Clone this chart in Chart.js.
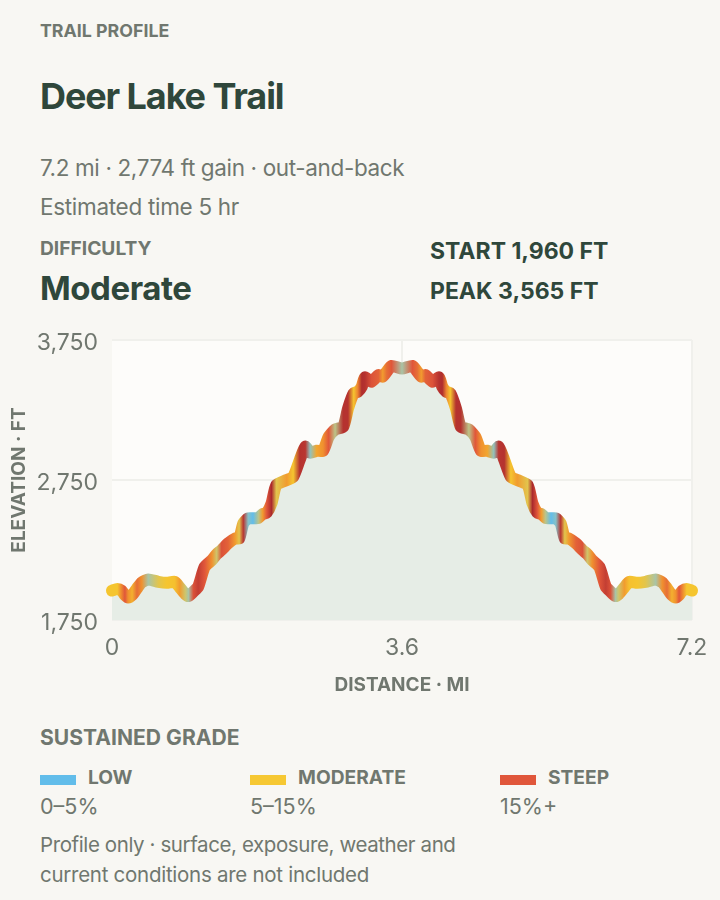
<!DOCTYPE html>
<html>
<head>
<meta charset="utf-8">
<script src="https://cdn.jsdelivr.net/npm/chart.js@4"></script>
<style>
html,body{margin:0;padding:0;background:#f8f7f3;}
body{width:720px;height:900px;position:relative;overflow:hidden;font-family:Inter,"Noto Sans",sans-serif;}
.t{position:absolute;white-space:nowrap;line-height:30px;height:30px;}
.m{color:#70776f;font-size:22.5px;font-weight:400;letter-spacing:-0.36px;}
.b{color:#70776f;font-weight:700;}
.d{color:#2f473b;font-weight:700;}
.s{position:absolute;width:36px;height:10px;top:775px;}
#wrap{position:absolute;left:0;top:320px;width:720px;height:380px;}
</style>
</head>
<body>
<div class="t b" style="left:40px;top:16px;font-size:17.8px;">TRAIL PROFILE</div>
<div class="t d" style="left:40px;top:81px;font-size:36px;letter-spacing:-1.1px;">Deer Lake Trail</div>
<div class="t m" style="left:40px;top:153px;">7.2 mi · 2,774 ft gain · out-and-back</div>
<div class="t m" style="left:40px;top:192px;letter-spacing:-0.3px;">Estimated time 5 hr</div>
<div class="t b" style="left:40px;top:233px;font-size:19.2px;">DIFFICULTY</div>
<div class="t d" style="left:40px;top:273px;font-size:33px;letter-spacing:-0.45px;">Moderate</div>
<div class="t d" style="left:430px;top:236px;font-size:23px;">START 1,960 FT</div>
<div class="t d" style="left:430px;top:276px;font-size:23px;">PEAK 3,565 FT</div>
<div id="wrap"><canvas id="c" width="720" height="380"></canvas></div>
<div class="t b" style="left:40px;top:723px;font-size:21.1px;">SUSTAINED GRADE</div>
<div id="legend"></div>
<div class="t m" style="left:40px;top:830px;font-size:20.5px;letter-spacing:-0.4px;">Profile only · surface, exposure, weather and</div>
<div class="t m" style="left:40px;top:860px;font-size:20.5px;letter-spacing:-0.27px;">current conditions are not included</div>
<script>
const distanceMi = [0,0.066,0.12,0.16,0.2,0.25,0.31,0.37,0.45,0.575,0.68,0.78,0.84,0.91,0.95,1.01,1.07,1.15,1.24,1.3,1.36,1.44,1.53,1.58,1.63,1.69,1.75,1.82,1.87,1.92,1.98,2.04,2.17,2.25,2.33,2.4,2.46,2.54,2.62,2.69,2.77,2.87,2.93,3,3.05,3.1,3.14,3.22,3.31,3.36,3.41,3.47,3.6,
3.73,3.79,3.84,3.89,3.98,4.06,4.1,4.15,4.2,4.27,4.33,4.43,4.51,4.58,4.66,4.74,4.8,4.87,4.95,5.03,5.16,5.22,5.28,5.33,5.38,5.45,5.51,5.57,5.62,5.67,5.76,5.84,5.9,5.96,6.05,6.13,6.19,6.25,6.29,6.36,6.42,6.52,6.625,6.75,6.83,6.89,6.95,7,7.04,7.08,7.134,7.2];
const elevationFt = [1960,1972,1959,1928,1911,1928,1976,2019,2040,2023,2016,2023,1983,1935,1921,1952,1988,2130,2178,2221,2250,2297,2333,2333,2440,2476,2476,2481,2507,2516,2583,2714,2750,2773,2892,2988,2945,2959,2959,3059,3111,3130,3261,3369,3380,3416,3483,3452,3500,3488,3523,3565,3547,
3565,3523,3488,3500,3452,3483,3416,3380,3369,3261,3130,3111,3059,2959,2959,2945,2988,2892,2773,2750,2714,2583,2516,2507,2481,2476,2476,2440,2333,2333,2297,2250,2221,2178,2130,1988,1952,1921,1935,1983,2023,2016,2023,2040,2019,1976,1928,1911,1928,1959,1972,1960];
const gradePct = [9,9,15,19,14,11,17,14,5,8,9,9.5,13,7,5,20,25,19,14,7,20,18,13,8,27,3.5,2,6,13,19,30,8,13,9,28,27,4,12,14,19,6,28,28,9,15,29,28,20,18,13,17,19,5,
19,17,13,18,20,28,29,15,9,28,28,6,19,14,12,4,27,28,9,13,8,30,19,13,6,2,3.5,27,8,13,18,20,7,14,19,25,20,5,7,13,9.5,9,8,5,14,17,11,14,19,15,9,9];
const yTicks = [1750,2750,3750];
const xTicks = [0,3.6,7.2];
const rampGrade = [2,5,9,14,19,30];
const rampColor = ['#62bdea','#a9c4a6','#f5c52f','#f0912f','#e0563a','#ab2a2d'];
const legendNames = ['LOW','MODERATE','STEEP'];
const legendRanges = ['0–5%','5–15%','15%+'];
const legendColors = ['#62bdea','#f6c833','#e0563a'];
const legendLeft = [40,250,500];

function hex(c){return [1,3,5].map(i=>parseInt(c.substr(i,2),16));}
function gradeColor(g){
  if(g<=rampGrade[0])return rampColor[0];
  for(let i=1;i<rampGrade.length;i++){
    if(g<=rampGrade[i]){
      const f=(g-rampGrade[i-1])/(rampGrade[i]-rampGrade[i-1]);
      const a=hex(rampColor[i-1]),b=hex(rampColor[i]);
      return 'rgb('+a.map((v,k)=>Math.round(v+(b[k]-v)*f)).join(',')+')';
    }
  }
  return rampColor[rampColor.length-1];
}
let grad=null;
function lineStroke(ctx){
  const ch=ctx.chart,area=ch.chartArea;
  if(!area)return rampColor[2];
  if(grad)return grad;
  const g=ch.ctx.createLinearGradient(area.left,0,area.right,0);
  const xs=ch.scales.x;
  distanceMi.forEach((d,i)=>{
    g.addColorStop(Math.min(1,Math.max(0,(xs.getPixelForValue(d)-area.left)/(area.right-area.left))),gradeColor(gradePct[i]));
  });
  grad=g;
  return g;
}
const plotBg={id:'plotBg',beforeDraw(c){const a=c.chartArea,x=c.ctx;x.save();x.fillStyle='#fdfcfa';x.fillRect(a.left,a.top,a.right-a.left,a.bottom-a.top);x.restore();}};
new Chart(document.getElementById('c'),{
  type:'line',
  plugins:[plotBg],
  data:{datasets:[{
    data:distanceMi.map((d,i)=>({x:d,y:elevationFt[i]})),
    borderColor:lineStroke,
    backgroundColor:'#e6ede6',
    fill:'start',
    borderWidth:12,
    borderCapStyle:'round',
    borderJoinStyle:'round',
    pointRadius:0,
    tension:0.2,
    clip:false
  }]},
  options:{
    responsive:false,
    animation:false,
    layout:{padding:{top:20,right:28,left:0,bottom:0}},
    plugins:{legend:{display:false},tooltip:{enabled:false}},
    scales:{
      x:{type:'linear',min:0,max:7.2,
        afterBuildTicks(s){s.ticks=xTicks.map(v=>({value:v}));},
        afterFit(s){s.height=80;s.paddingLeft=0;s.paddingRight=0;},
        grid:{color:c=>c.tick&&c.tick.value===0?'rgba(0,0,0,0)':'#f0f0ec',lineWidth:2,drawTicks:false},
        border:{display:false},
        ticks:{autoSkip:false,maxRotation:0,padding:14,color:'#70776f',font:{family:'Inter',size:23},callback:v=>String(v)},
        title:{display:true,text:'DISTANCE · MI',color:'#70776f',font:{family:'Inter',size:19,weight:'700'},padding:{top:7,bottom:3}}
      },
      y:{type:'linear',min:1750,max:3750,
        afterBuildTicks(s){s.ticks=yTicks.map(v=>({value:v}));},
        afterFit(s){s.width=112;s.paddingTop=0;s.paddingBottom=0;},
        grid:{color:'#f0f0ec',lineWidth:2,drawTicks:false},
        border:{display:false},
        ticks:{autoSkip:false,padding:14,color:'#70776f',font:{family:'Inter',size:23,lineHeight:'6px'},callback:v=>['',v.toLocaleString('en-US')]},
        title:{display:true,text:'ELEVATION · FT',color:'#70776f',font:{family:'Inter',size:19,weight:'700'},padding:{top:8,bottom:0}}
      }
    }
  }
});
const lg=document.getElementById('legend');
legendNames.forEach((n,i)=>{
  lg.insertAdjacentHTML('beforeend',
   '<div class="s" style="left:'+legendLeft[i]+'px;background:'+legendColors[i]+'"></div>'+
   '<div class="t b" style="left:'+(legendLeft[i]+48)+'px;top:762px;font-size:19.2px;">'+n+'</div>'+
   '<div class="t m" style="left:'+legendLeft[i]+'px;top:791px;font-size:21.5px;letter-spacing:0;">'+legendRanges[i]+'</div>');
});
</script>
</body>
</html>
